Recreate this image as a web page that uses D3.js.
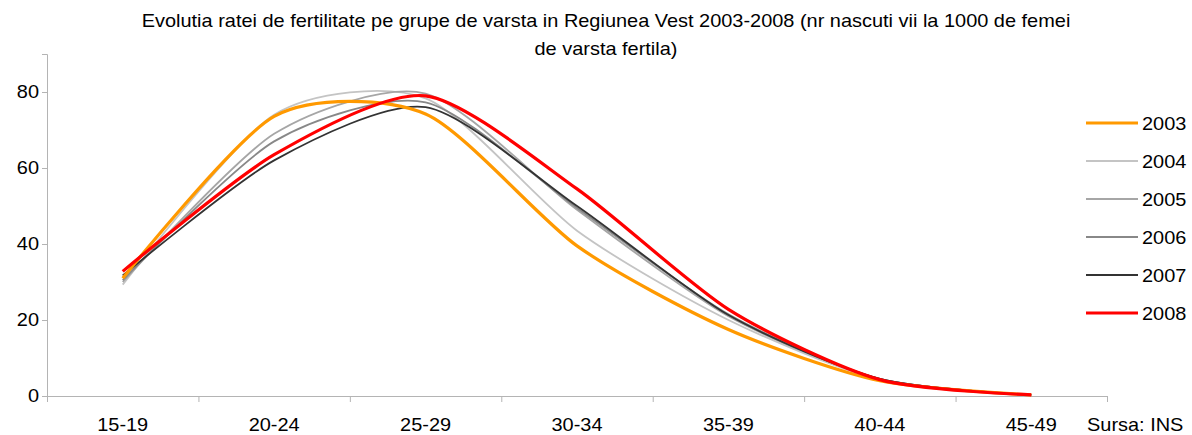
<!DOCTYPE html>
<html>
<head>
<meta charset="utf-8">
<script src="https://cdn.jsdelivr.net/npm/d3@7"></script>
<style>
  body { margin: 0; background: #fff; }
  svg text { font-family: 'Liberation Sans', Arial, sans-serif; fill: #000; }
</style>
</head>
<body>
<svg id="chart"></svg>
<script>
var width = 1192; var height = 435

var ageGroups = ['15-19', '20-24', '25-29', '30-34', '35-39', '40-44', '45-49']
var years = ['2003', '2004', '2005', '2006', '2007', '2008']
var yTicks = [0, 20, 40, 60, 80]

var rate2003 = [31.0, 73.6, 74.2, 39.5, 17.5, 4.0, 0.3]
var rate2004 = [29.3, 74.0, 78.3, 43.5, 20.0, 4.3, 0.3]
var rate2005 = [30.0, 69.0, 79.6, 49.0, 21.0, 4.5, 0.3]
var rate2006 = [30.5, 67.0, 77.3, 49.5, 21.5, 4.5, 0.3]
var rate2007 = [31.7, 62.0, 76.0, 50.0, 21.3, 4.5, 0.3]
var rate2008 = [32.8, 63.5, 79.0, 54.5, 22.8, 4.3, 0.3]

var seriesValues = [rate2003, rate2004, rate2005, rate2006, rate2007, rate2008]
var seriesColors = ['#ff9900', '#c4c4c4', '#a6a6a6', '#888888', '#333333', '#ff0000']
var seriesWidths = [3.2, 1.8, 1.8, 1.8, 1.8, 3.2]

// the picture's text is a little wide, so stretch it sideways
var fontSize = '17.5px'
var stretch = 'scale(1.14,1)'

var svg = d3.select('#chart')
  .attr('width', width)
  .attr('height', height)

var plotLeft = 47; var plotRight = 1107; var plotTop = 54; var plotBottom = 396

const xScale = d3.scaleBand()
  .domain(ageGroups)
  .range([plotLeft, plotRight])

const yScale = d3.scaleLinear()
  .domain([0, 90])
  .range([plotBottom, plotTop])

// title
var titleLines = [
  'Evolutia ratei de fertilitate pe grupe de varsta in Regiunea Vest 2003-2008 (nr nascuti vii la 1000 de femei',
  'de varsta fertila)'
]
svg.selectAll('.title')
  .data(titleLines)
  .enter().append('text')
  .attr('transform', (d, i) => 'translate(606,' + (27 + i * 28) + ') ' + stretch)
  .attr('text-anchor', 'middle')
  .style('font-size', fontSize)
  .text(d => d)

// y axis
var yAxis = svg.append('g')
  .attr('transform', 'translate(' + plotLeft + ',0)')
  .call(d3.axisLeft(yScale).tickValues(yTicks).tickSize(5).tickPadding(2))
yAxis.select('.domain').attr('stroke', '#b4b4b4')
yAxis.selectAll('.tick line').attr('stroke', '#b4b4b4')
yAxis.selectAll('.tick text')
  .style('font-size', fontSize)
  .style('font-family', "'Liberation Sans', Arial, sans-serif")
  .attr('fill', '#000')
  .attr('transform', stretch)

// x axis
var boundaries = ageGroups.map(d => xScale(d)).concat([plotRight])
var xAxis = svg.append('g')
xAxis.append('line')
  .attr('x1', plotLeft).attr('x2', plotRight)
  .attr('y1', plotBottom + 0.5).attr('y2', plotBottom + 0.5)
  .attr('stroke', '#b4b4b4')
xAxis.selectAll('.xtick')
  .data(boundaries)
  .enter().append('line')
  .attr('x1', d => d + 0.5).attr('x2', d => d + 0.5)
  .attr('y1', plotBottom).attr('y2', plotBottom + 6)
  .attr('stroke', '#b4b4b4')
xAxis.selectAll('.xlabel')
  .data(ageGroups)
  .enter().append('text')
  .attr('transform', d => 'translate(' + (xScale(d) + xScale.bandwidth() / 2) + ',431) ' + stretch)
  .attr('text-anchor', 'middle')
  .style('font-size', fontSize)
  .text(d => d)

// lines
var line = d3.line()
  .x((d, i) => xScale(ageGroups[i]) + xScale.bandwidth() / 2)
  .y(d => yScale(d))
  .curve(d3.curveCardinal.tension(0.25))

var order = [1, 2, 3, 4, 0, 5]
svg.selectAll('.series')
  .data(order)
  .enter().append('path')
  .attr('d', i => line(seriesValues[i]))
  .attr('fill', 'none')
  .attr('stroke', i => seriesColors[i])
  .attr('stroke-width', i => seriesWidths[i])
  .attr('stroke-linejoin', 'round')

// legend
var legend = svg.selectAll('.legend')
  .data(years)
  .enter().append('g')
  .attr('transform', (d, i) => 'translate(1086,' + (123 + i * 38) + ')')
legend.append('line')
  .attr('x1', 0).attr('x2', 52)
  .attr('stroke', (d, i) => seriesColors[i])
  .attr('stroke-width', (d, i) => seriesWidths[i])
legend.append('text')
  .attr('transform', 'translate(56,6.5) ' + stretch)
  .style('font-size', fontSize)
  .text(d => d)

svg.append('text')
  .attr('transform', 'translate(1087,431) ' + stretch)
  .style('font-size', fontSize)
  .text('Sursa: INS')
</script>
</body>
</html>
